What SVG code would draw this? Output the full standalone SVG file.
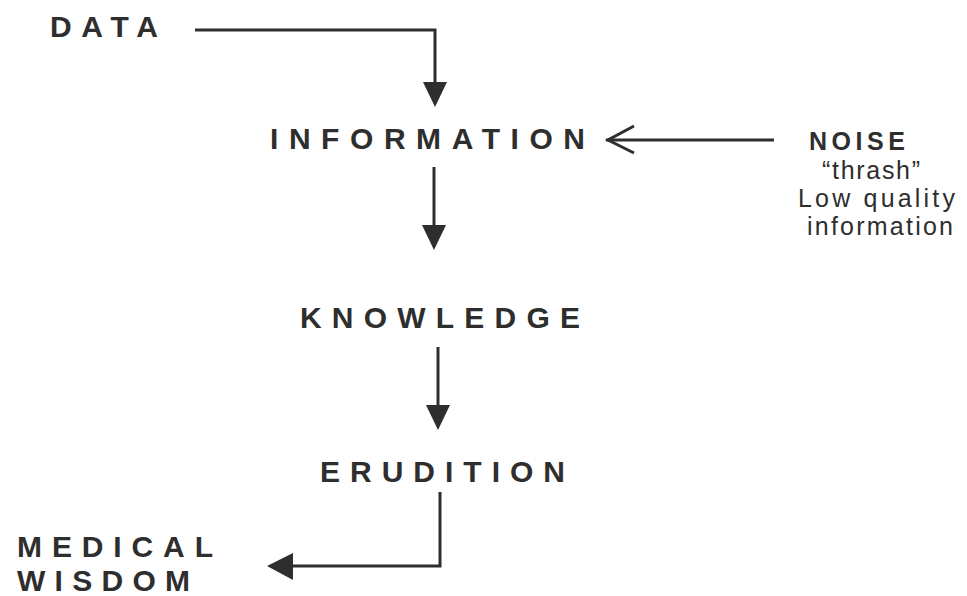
<svg xmlns="http://www.w3.org/2000/svg" width="967" height="596" viewBox="0 0 967 596">
<style>
.t{font-family:"Liberation Sans",Arial,sans-serif;font-weight:bold;font-size:30px;fill:#2e2e2e}
.n{font-family:"Liberation Sans",Arial,sans-serif;font-size:25px;fill:#2e2e2e}
.c{fill:none;stroke:#2e2e2e;stroke-width:3}
.h{fill:#2e2e2e}
</style>
<rect width="967" height="596" fill="#ffffff"/>
<g id="data"><text class="t" x="50" y="37" textLength="108" lengthAdjust="spacing">DATA</text></g>
<g id="information"><text class="t" x="270" y="149" textLength="315" lengthAdjust="spacing">INFORMATION</text></g>
<g id="noise">
<text class="t" x="809" y="150" style="font-size:25px" textLength="96" lengthAdjust="spacing">NOISE</text>
<text class="n" x="822" y="179" textLength="98" lengthAdjust="spacing">“thrash”</text>
<text class="n" x="798" y="207" textLength="157" lengthAdjust="spacing">Low quality</text>
<text class="n" x="807" y="235" textLength="146" lengthAdjust="spacing">information</text>
</g>
<g id="knowledge"><text class="t" x="300" y="328" textLength="280" lengthAdjust="spacing">KNOWLEDGE</text></g>
<g id="erudition"><text class="t" x="320" y="482" textLength="245" lengthAdjust="spacing">ERUDITION</text></g>
<g id="medical-wisdom">
<text class="t" x="17" y="557" textLength="196" lengthAdjust="spacing">MEDICAL</text>
<text class="t" x="17" y="591" textLength="173" lengthAdjust="spacing">WISDOM</text>
</g>
<g id="connectors">
<polyline class="c" points="195,30 435,30 435,84"/>
<polygon class="h" points="423,82 447,82 435,107"/>
<line class="c" x1="606" y1="140" x2="774" y2="140"/>
<polyline class="c" points="634,126 608,140 634,153" stroke-linejoin="miter"/>
<line class="c" x1="434" y1="167" x2="434" y2="228"/>
<polygon class="h" points="422,225 446,225 434,250"/>
<line class="c" x1="438" y1="347" x2="438" y2="408"/>
<polygon class="h" points="426,405 450,405 438,430"/>
<polyline class="c" points="440,492 440,566 290,566"/>
<polygon class="h" points="293,553 293,580 267,566"/>
</g>
</svg>
